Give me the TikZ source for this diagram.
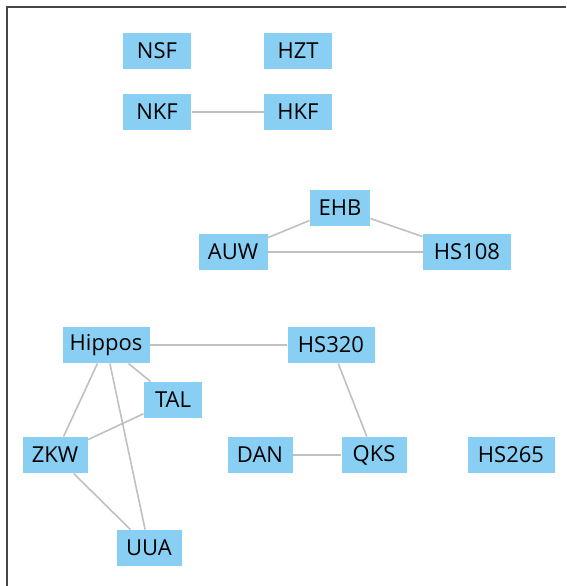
\documentclass[tikz,border=0pt]{standalone}
\usepackage{fontspec}
\setmainfont{Open Sans}
\usetikzlibrary{positioning}

\definecolor{boxblue}{RGB}{137,207,243}
\definecolor{linkgray}{RGB}{192,192,192}
\definecolor{framegray}{RGB}{70,70,70}

\tikzset{
every picture/.style={
line width=1pt
}}

\begin{document}
\begin{tikzpicture}[x=1pt, y=-1pt,
block/.style = {rectangle, fill=boxblue, inner xsep=0pt, inner ysep=0pt,
  minimum height=36pt, minimum width=#1, font=\fontsize{22}{22}\selectfont},
block/.default=65pt,
link/.style = {draw=linkgray, line width=1.6pt}]

  \useasboundingbox (0,0) rectangle (566,586);
  \draw[framegray, line width=2pt] (7,586) -- (7,7) -- (566,7);

  \node[block=68pt] (nsf) at (157,51) {NSF};
  \node[block=68pt] (hzt) at (298,51) {HZT};
  \node[block=68pt] (nkf) at (157,112) {NKF};
  \node[block=68pt] (hkf) at (298,112) {HKF};

  \node[block=60pt] (ehb) at (340,208) {EHB};
  \node[block=69pt] (auw) at (233,252) {AUW};
  \node[block=88pt] (hs108) at (467,252) {HS108};

  \node[block=87pt] (hippos) at (106,345) {Hippos};
  \node[block=87pt] (hs320) at (331,345) {HS320};
  \node[block=58pt] (tal) at (173,400) {TAL};
  \node[block] (zkw) at (55,455) {ZKW};
  \node[block] (dan) at (260,455) {DAN};
  \node[block] (qks) at (374,455) {QKS};
  \node[block=87pt] (hs265) at (511,455) {HS265};
  \node[block] (uua) at (149,548) {UUA};

  \begin{scope}[on background layer/.try]
  \draw[link] (nkf) -- (hkf);
  \draw[link] (ehb) -- (auw);
  \draw[link] (ehb) -- (hs108);
  \draw[link] (auw) -- (hs108);
  \draw[link] (hippos) -- (hs320);
  \draw[link] (hippos) -- (tal);
  \draw[link] (hippos) -- (zkw);
  \draw[link] (hippos) -- (uua);
  \draw[link] (zkw) -- (tal);
  \draw[link] (zkw) -- (uua);
  \draw[link] (hs320) -- (qks);
  \draw[link] (dan) -- (qks);
  \end{scope}
\end{tikzpicture}
\end{document}
